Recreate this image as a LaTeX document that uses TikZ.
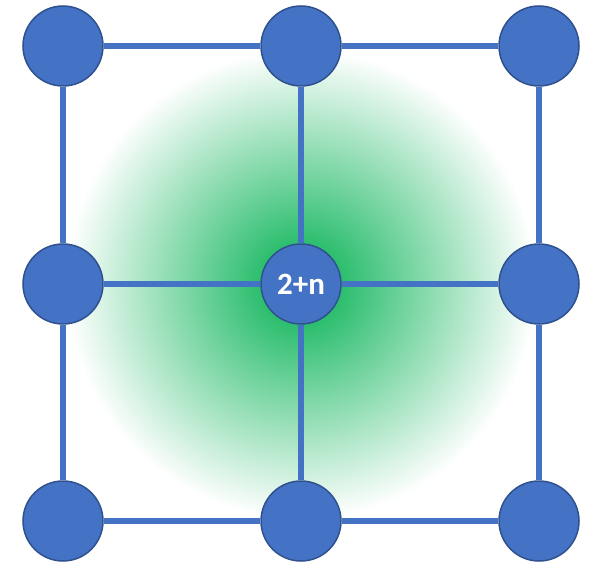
\documentclass[tikz,border=0pt]{standalone}
\usepackage{fontspec}
\setmainfont{Carlito}
\usetikzlibrary{positioning,backgrounds}
\definecolor{nodeblue}{HTML}{4472C4}
\definecolor{rimblue}{HTML}{2F528F}
\definecolor{glow}{HTML}{00B050}

\begin{document}
\begin{tikzpicture}[x=1pt,y=1pt,
  vertex/.style={circle,fill=nodeblue,draw=rimblue,line width=1.5pt,minimum size=80pt,inner sep=0pt,
    text=white,font=\fontsize{31}{31}\selectfont\bfseries},
  edge/.style={draw=nodeblue,line width=5.5pt}]
  \useasboundingbox (0,0) rectangle (593,565);
  % nodi
  \foreach \i/\x in {1/63,2/301,3/539}
    \foreach \j/\y in {1/519,2/281,3/44}
      \node[vertex] (v\i\j) at (\x,\y) {\ifnum\i\j=22 2+n\fi};
  \begin{scope}[on background layer]
    % alone
    \shade[inner color=glow,outer color=white] (301,281) circle (235);
    % griglia
    \foreach \i in {1,2,3} {
      \draw[edge] (v\i1) -- (v\i2) -- (v\i3);
      \draw[edge] (v1\i) -- (v2\i) -- (v3\i);
    }
  \end{scope}
\end{tikzpicture}
\end{document}
